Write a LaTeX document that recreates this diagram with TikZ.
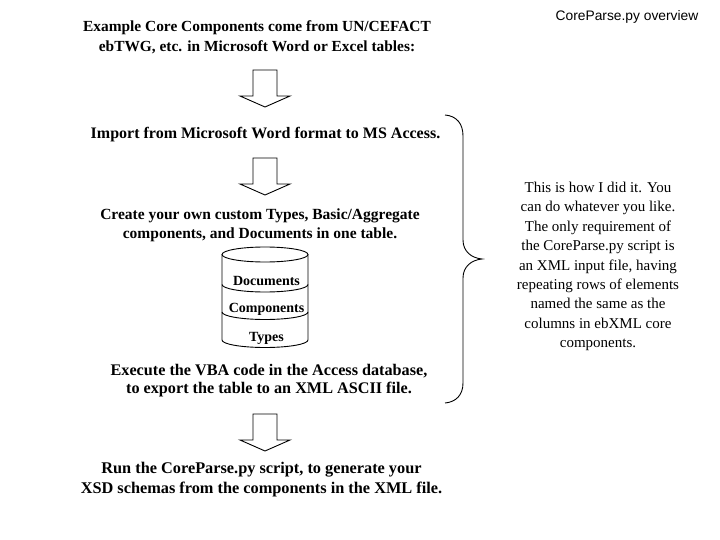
\documentclass[tikz,border=0pt]{standalone}
\usepackage{fontspec}
\setmainfont{Liberation Serif}
\newfontfamily\arialfont{Liberation Sans}
\begin{document}
\begin{tikzpicture}[x=1pt,y=-1pt,line width=0.9pt,
  stepbold/.style={align=center,inner sep=0pt},
  cyltext/.style={font=\fontsize{14}{16}\selectfont\bfseries,inner sep=0pt},
  notetext/.style={font=\fontsize{15}{19.4}\selectfont,align=center,inner sep=0pt},
  blockarrow/.style={draw,fill=white,line join=miter}]
\useasboundingbox (0,0) rectangle (720,540);
\fill[white] (0,0) rectangle (720,540);

\node[font=\fontsize{13.8}{16}\selectfont\arialfont,inner sep=0pt] (title) at (627,17) {CoreParse.py overview};

\node[stepbold,font=\fontsize{15.4}{20}\selectfont\bfseries] (t1) at (257,37.5) {Example Core Components come from UN/CEFACT\\ebTWG, etc. in Microsoft Word or Excel tables:};
\node[stepbold,font=\fontsize{16}{20}\selectfont\bfseries] (t2) at (265.5,134.5) {Import from Microsoft Word format to MS Access.};
\node[stepbold,font=\fontsize{15.5}{19}\selectfont\bfseries] (t3) at (260,225.5) {Create your own custom Types, Basic/Aggregate\\components, and Documents in one table.};
\node[stepbold,font=\fontsize{16.2}{18}\selectfont\bfseries] (t4) at (269,381) {Execute the VBA code in the Access database,\\to export the table to an XML ASCII file.};
\node[stepbold,font=\fontsize{16.3}{20}\selectfont\bfseries] (t5) at (261.5,480) {Run the CoreParse.py script, to generate your\\XSD schemas from the components in the XML file.};

% block arrows
\foreach \yy/\nm in {70/a1,158/a2,414/a3}{
  \draw[blockarrow] (253,\yy) -- (277,\yy) -- (277,\yy+26) -- (290,\yy+26) -- (265,\yy+37) -- (240,\yy+26) -- (253,\yy+26) -- cycle;
}

% cylinder
\draw (265,254.5) ellipse[x radius=43pt, y radius=7.5pt];
\draw (222,254.5) -- (222,340) arc[start angle=180,end angle=360,x radius=43pt,y radius=7.5pt] -- (308,254.5);
\draw (222,284.5) arc[start angle=180,end angle=360,x radius=43pt,y radius=7.5pt];
\draw (222,312) arc[start angle=180,end angle=360,x radius=43pt,y radius=7.5pt];
\node[cyltext] (docs) at (266.5,281.5) {Documents};
\node[cyltext] (comps) at (266.5,309.5) {Components};
\node[cyltext] (types) at (266.5,338) {Types};

% brace
\draw[line width=0.9pt] (445,115) .. controls (457,116) and (463,124) .. (463,136) -- (463,240)
  .. controls (463,251) and (471,258) .. (482,259)
  .. controls (471,260) and (463,267) .. (463,278) -- (463,383)
  .. controls (463,395) and (456,402) .. (445,403);

\node[notetext] (note) at (598,266.5) {This is how I did it. You\\can do whatever you like.\\The only requirement of\\the CoreParse.py script is\\an XML input file, having\\repeating rows of elements\\named the same as the\\columns in ebXML core\\components.};
\end{tikzpicture}
\end{document}
